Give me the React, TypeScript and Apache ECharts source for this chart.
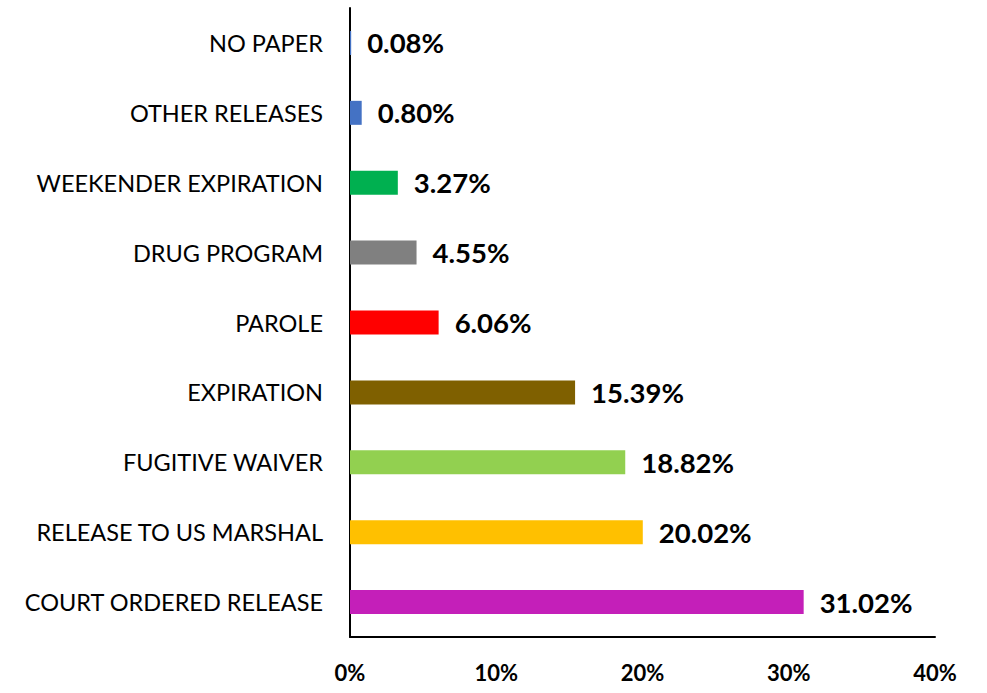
import React, { useEffect, useRef } from "react";
import * as echarts from "echarts";

const categories = [
  "NO PAPER",
  "OTHER RELEASES",
  "WEEKENDER EXPIRATION",
  "DRUG PROGRAM",
  "PAROLE",
  "EXPIRATION",
  "FUGITIVE WAIVER",
  "RELEASE TO US MARSHAL",
  "COURT ORDERED RELEASE",
];
const values = [0.08, 0.8, 3.27, 4.55, 6.06, 15.39, 18.82, 20.02, 31.02];
const colors = [
  "#4472C4",
  "#4472C4",
  "#00B050",
  "#808080",
  "#FF0000",
  "#7F6000",
  "#92D050",
  "#FFC000",
  "#C41FB9",
];
const xTicks = [0, 10, 20, 30, 40];

export default function App() {
  const ref = useRef<HTMLDivElement>(null);
  useEffect(() => {
    const chart = echarts.init(ref.current!, null, { renderer: "svg" });
    chart.setOption({
      animation: false,
      grid: { left: 350, right: 52, top: 8, bottom: 56 },
      xAxis: {
        type: "value",
        min: xTicks[0],
        max: xTicks[xTicks.length - 1],
        interval: 10,
        axisLine: { show: true, lineStyle: { color: "#000", width: 2 } },
        axisTick: { show: false },
        splitLine: { show: false },
        axisLabel: {
          formatter: "{value}%",
          color: "#000",
          fontFamily: "Lato",
          fontWeight: "bold",
          fontSize: 22,
          margin: 24,
        },
      },
      yAxis: {
        type: "category",
        inverse: true,
        data: categories,
        axisLine: { show: true, lineStyle: { color: "#000", width: 2 } },
        axisTick: { show: false },
        axisLabel: {
          color: "#000",
          fontFamily: "Lato",
          fontSize: 23.5,
          margin: 27,
        },
      },
      series: [
        {
          type: "bar",
          barWidth: 24,
          data: values.map((v, i) => ({ value: v, itemStyle: { color: colors[i] } })),
          label: {
            show: true,
            position: "right",
            distance: 16,
            formatter: (p: any) => p.value.toFixed(2) + "%",
            color: "#000",
            fontFamily: "Lato",
            fontWeight: "bold",
            fontSize: 27.5,
          },
        },
      ],
    });
    return () => chart.dispose();
  }, []);
  return (
    <div
      ref={ref}
      style={{ position: "fixed", left: 0, top: 0, width: 987, height: 693, background: "#fff" }}
    />
  );
}
